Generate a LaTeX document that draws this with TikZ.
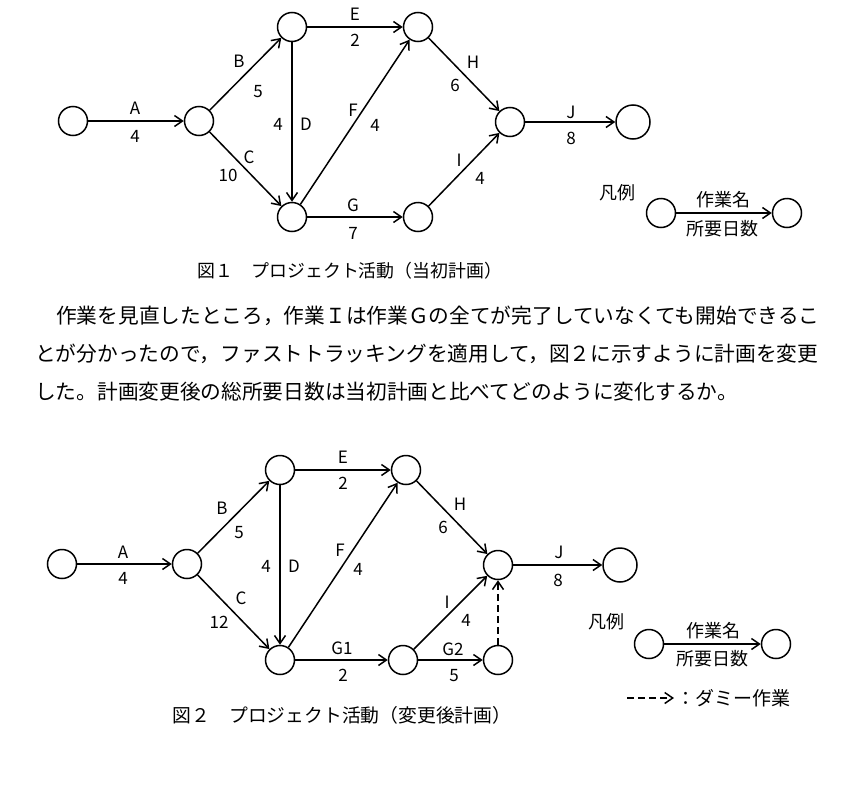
\documentclass[tikz,border=0pt]{standalone}
\usepackage{fontspec}
\setmainfont{Noto Sans CJK JP}
\usetikzlibrary{arrows.meta}
\begin{document}
\begin{tikzpicture}[x=1pt,y=-1pt,
  ev/.style={circle,draw,line width=1.5pt,minimum size=29pt,inner sep=0pt},
  evbig/.style={ev,minimum size=34pt},
  act/.style={line width=1.5pt,-{Straight Barb[length=8pt,width=11pt]}},
  dummy/.style={act,dash pattern=on 7pt off 4pt},
  lab/.style={inner sep=0pt,font=\fontsize{17}{19}\selectfont},
  figcap/.style={inner sep=0pt,font=\fontsize{17.9}{20}\selectfont},
  leg/.style={inner sep=0pt,font=\fontsize{18}{20}\selectfont},
  para/.style={inner sep=0pt,anchor=west,font=\fontsize{20.7}{24}\selectfont},
  ]
\useasboundingbox (0,0) rectangle (859,790);

% ---------------- Figure 1 ----------------
\node[ev] (n1) at (73,121) {};
\node[ev] (n2) at (199,121) {};
\node[ev] (n3) at (292,27) {};
\node[ev] (n4) at (292,217) {};
\node[ev] (n5) at (418,27) {};
\node[ev] (n6) at (418,217) {};
\node[ev] (n7) at (510,122) {};
\node[evbig] (n8) at (633,122) {};

\draw[act] (n1) -- (n2);
\draw[act] (n2) -- (n3);
\draw[act] (n2) -- (n4);
\draw[act] (n3) -- (n4);
\draw[act] (n3) -- (n5);
\draw[act] (n4) -- (n5);
\draw[act] (n4) -- (n6);
\draw[act] (n5) -- (n7);
\draw[act] (n6) -- (n7);
\draw[act] (n7) -- (n8);

\node[lab] (a1) at (135,108) {A};
\node[lab] (a1d) at (135,136) {4};
\node[lab] (b1) at (239,61) {B};
\node[lab] (b1d) at (258,92) {5};
\node[lab] (d1d) at (278,124) {4};
\node[lab] (d1) at (306,124) {D};
\node[lab] (c1) at (249,157) {C};
\node[lab] (c1d) at (228,175) {10};
\node[lab] (e1) at (355,14) {E};
\node[lab] (e1d) at (355,40) {2};
\node[lab] (f1) at (353,110) {F};
\node[lab] (f1d) at (375,125) {4};
\node[lab] (g1) at (353,205) {G};
\node[lab] (g1d) at (353,233) {7};
\node[lab] (h1) at (473,62) {H};
\node[lab] (h1d) at (455,85) {6};
\node[lab] (i1) at (459,160) {I};
\node[lab] (i1d) at (480,178) {4};
\node[lab] (j1) at (571,112) {J};
\node[lab] (j1d) at (571,138) {8};

% legend 1
\node[leg] (hanrei1) at (617,193) {凡例};
\node[ev] (l1a) at (661,213) {};
\node[ev] (l1b) at (787,213) {};
\draw[act] (l1a) -- (l1b);
\node[leg] (l1n) at (723,200) {作業名};
\node[leg] (l1d) at (722,229) {所要日数};

\node[figcap] (cap1) at (350,271) {図１　プロジェクト活動（当初計画）};

% ---------------- Paragraph ----------------
\node[para] (p1) at (56,316) {作業を見直したところ，作業Ｉは作業Ｇの全てが完了していなくても開始できるこ};
\node[para] (p2) at (35,354) {とが分かったので，ファストトラッキングを適用して，図２に示すように計画を変更};
\node[para] (p3) at (35,392) {した。計画変更後の総所要日数は当初計画と比べてどのように変化するか。};

% ---------------- Figure 2 ----------------
\node[ev] (m1) at (62,564) {};
\node[ev] (m2) at (187,564) {};
\node[ev] (m3) at (280,470) {};
\node[ev] (m4) at (280,660) {};
\node[ev] (m5) at (406,470) {};
\node[ev] (m6) at (403,660) {};
\node[ev] (m7) at (498,660) {};
\node[ev] (m8) at (498,565) {};
\node[evbig] (m9) at (620,565) {};

\draw[act] (m1) -- (m2);
\draw[act] (m2) -- (m3);
\draw[act] (m2) -- (m4);
\draw[act] (m3) -- (m4);
\draw[act] (m3) -- (m5);
\draw[act] (m4) -- (m5);
\draw[act] (m4) -- (m6);
\draw[act] (m6) -- (m7);
\draw[act] (m6) -- (m8);
\draw[act] (m5) -- (m8);
\draw[dummy] (m7) -- (m8);
\draw[act] (m8) -- (m9);

\node[lab] (a2) at (123,552) {A};
\node[lab] (a2d) at (123,578) {4};
\node[lab] (b2) at (222,508) {B};
\node[lab] (b2d) at (239,533) {5};
\node[lab] (d2d) at (266,566) {4};
\node[lab] (d2) at (294,566) {D};
\node[lab] (c2) at (241,598) {C};
\node[lab] (c2d) at (219,622) {12};
\node[lab] (e2) at (343,457) {E};
\node[lab] (e2d) at (343,483) {2};
\node[lab] (f2) at (340,550) {F};
\node[lab] (f2d) at (358,569) {4};
\node[lab] (ga2) at (342,648) {G1};
\node[lab] (ga2d) at (343,675) {2};
\node[lab] (h2) at (460,504) {H};
\node[lab] (h2d) at (443,527) {6};
\node[lab] (i2) at (447,602) {I};
\node[lab] (i2d) at (466,620) {4};
\node[lab] (gb2) at (453,649) {G2};
\node[lab] (gb2d) at (454,676) {5};
\node[lab] (j2) at (559,552) {J};
\node[lab] (j2d) at (558,580) {8};

% legend 2
\node[leg] (hanrei2) at (606,622) {凡例};
\node[ev] (l2a) at (649,644) {};
\node[ev] (l2b) at (776,644) {};
\draw[act] (l2a) -- (l2b);
\node[leg] (l2n) at (713,631) {作業名};
\node[leg] (l2d) at (712,659) {所要日数};
\coordinate (dmA) at (627,698);
\coordinate (dmB) at (674,698);
\draw[dummy] (dmA) -- (dmB);
\node[leg,anchor=west,font=\fontsize{19}{21}\selectfont] (dmtext) at (676,698) {：ダミー作業};

\node[figcap,font=\fontsize{18.8}{21}\selectfont] (cap2) at (342,715) {図２　プロジェクト活動（変更後計画）};
\end{tikzpicture}
\end{document}
